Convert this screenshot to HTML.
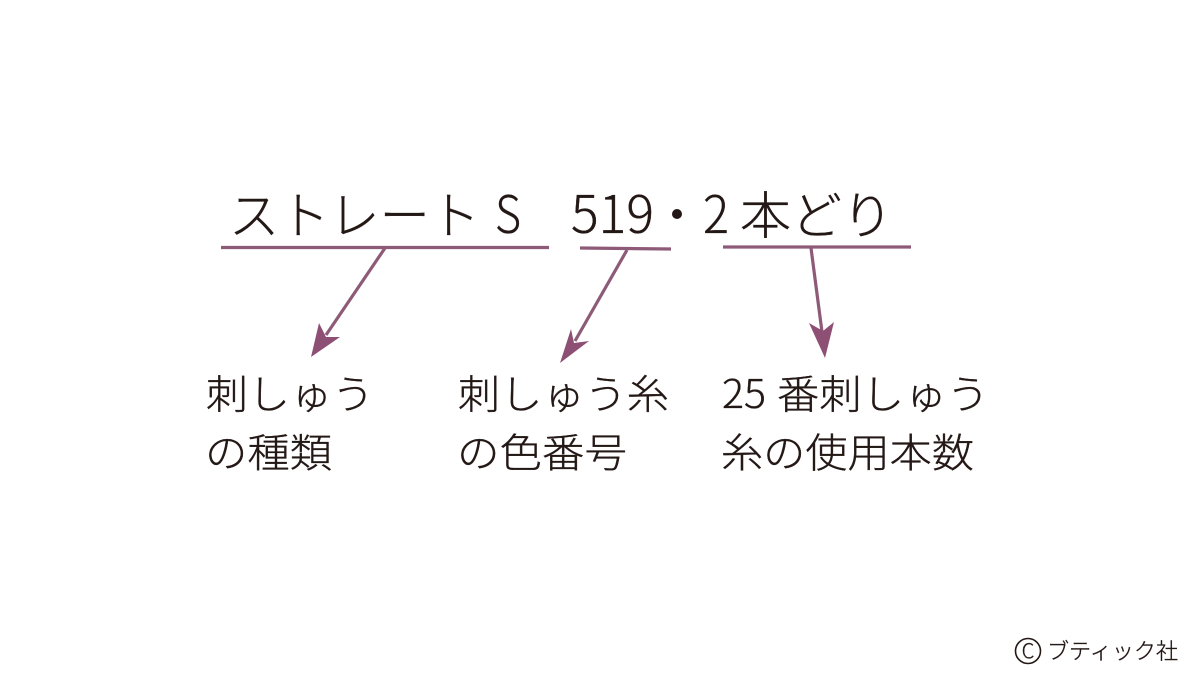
<!DOCTYPE html>
<html lang="ja">
<head>
<meta charset="utf-8">
<style>
html,body{margin:0;padding:0;background:#fff;width:1200px;height:675px;overflow:hidden}
svg{display:block}
text{font-family:"Noto Sans CJK JP","Liberation Sans",sans-serif;font-weight:300;fill:#231815;stroke:#231815;stroke-width:.35px}
.t{font-size:51px}
.n{font-size:52px}
.l{font-size:40px}
</style>
</head>
<body>
<svg width="1200" height="675" viewBox="0 0 1200 675" xmlns="http://www.w3.org/2000/svg">
<rect width="1200" height="675" fill="#fff"/>
<text class="t" x="229" y="234" textLength="251" lengthAdjust="spacingAndGlyphs">ストレート</text>
<text class="n" x="495" y="233" textLength="26" lengthAdjust="spacingAndGlyphs">S</text>
<text class="n" x="571" y="233" textLength="83" lengthAdjust="spacingAndGlyphs">519</text>
<circle cx="677" cy="214" r="5" fill="#231815"/>
<text class="n" x="703" y="233" textLength="26" lengthAdjust="spacingAndGlyphs">2</text>
<text class="t" x="740" y="234" textLength="153" lengthAdjust="spacingAndGlyphs">本どり</text>

<g stroke="#8d5a78" fill="none">
<line x1="221" y1="247.5" x2="549" y2="247.5" stroke-width="3.2"/>
<line x1="580" y1="248" x2="671" y2="249" stroke-width="3.2"/>
<line x1="723" y1="247" x2="911" y2="247" stroke-width="3.2"/>
<line x1="385" y1="248" x2="326" y2="335" stroke-width="3.2"/>
<line x1="627" y1="250" x2="575" y2="341" stroke-width="3.2"/>
<line x1="811" y1="248" x2="822" y2="332" stroke-width="3.2"/>
</g>
<g fill="#8d5074">
<polygon points="311,357 319,323 326,337 340,337"/>
<polygon points="560,363 571,329 574,343 589,341"/>
<polygon points="825,358 809,323 823,331 834,322"/>
</g>

<text class="l" x="206" y="408.5" textLength="168" lengthAdjust="spacingAndGlyphs">刺しゅう</text>
<text class="l" x="205" y="467" textLength="127" lengthAdjust="spacingAndGlyphs">の種類</text>
<text class="l" x="458" y="408.5" textLength="211" lengthAdjust="spacingAndGlyphs">刺しゅう糸</text>
<text class="l" x="457" y="467" textLength="170" lengthAdjust="spacingAndGlyphs">の色番号</text>
<text class="l" x="722" y="408" textLength="44" lengthAdjust="spacingAndGlyphs">25</text>
<text class="l" x="777" y="408.5" textLength="212" lengthAdjust="spacingAndGlyphs">番刺しゅう</text>
<text class="l" x="721" y="467" textLength="253" lengthAdjust="spacingAndGlyphs">糸の使用本数</text>

<circle cx="1028" cy="651" r="12.5" fill="none" stroke="#231815" stroke-width="1.6"/>
<text x="1028" y="658" text-anchor="middle" style="font-size:20px">C</text>
<text x="1047" y="659" style="font-size:22px" textLength="131" lengthAdjust="spacingAndGlyphs">ブティック社</text>
</svg>
</body>
</html>
